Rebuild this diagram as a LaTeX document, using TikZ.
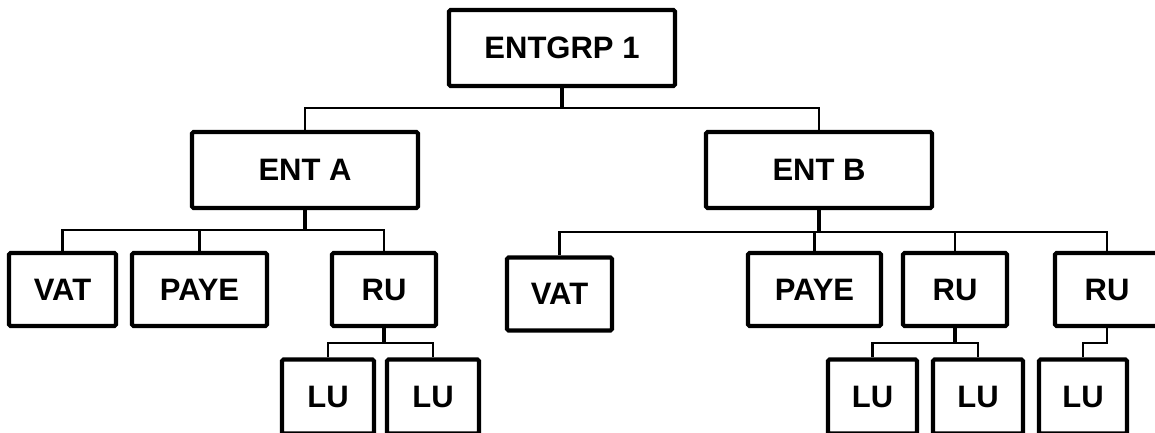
\documentclass[tikz,border=0pt]{standalone}
\usepackage{fontspec}
\setmainfont{Liberation Sans}
\begin{document}
\begin{tikzpicture}[x=1pt,y=-1pt,
  box/.style={draw=black,line width=4.2pt,rounded corners=1.5pt,fill=white,
    inner sep=0pt,text depth=0pt,
    font=\fontsize{31}{31}\selectfont\bfseries},
  big/.style={box,minimum width=226pt,minimum height=76pt},
  unit/.style={box,minimum height=73pt},
  leaf/.style={box,minimum height=74pt},
  stem/.style={draw=black,line width=3.6pt},
  link/.style={draw=black,line width=2.6pt}]
\useasboundingbox (0,0) rectangle (1155,432);
\clip (0,0) rectangle (1155,432);
\fill[white] (0,0) rectangle (1155,432);

% junction points of the tree connectors
\coordinate (busG) at (562,108);
\coordinate (busA) at (305,230);
\coordinate (busB) at (819,232);
\coordinate (busRA) at (384,343);
\coordinate (busRB) at (955,343);
\coordinate (busRC) at (1083,343);

% top level
\node[big] (g) at (562,48) {ENTGRP 1};
\node[big] (a) at (305,170) {ENT A};
\node[big] (b) at (819,170) {ENT B};

% units of ENT A
\node[unit,minimum width=107pt] (vatA)  at (62.5,289.5) {VAT};
\node[unit,minimum width=135pt] (payeA) at (199.5,289.5) {PAYE};
\node[unit,minimum width=104pt] (ruA)   at (384,289.5) {RU};
\node[leaf,minimum width=92pt]  (luA1)  at (328,396.5) {LU};
\node[leaf,minimum width=92pt]  (luA2)  at (433,396.5) {LU};

% units of ENT B
\node[unit,minimum width=105pt] (vatB)  at (559.5,294) {VAT};
\node[unit,minimum width=133pt] (payeB) at (814.5,289.5) {PAYE};
\node[unit,minimum width=104pt] (ruB1)  at (955,289.5) {RU};
\node[unit,minimum width=104pt] (ruB2)  at (1107,289.5) {RU};
\node[leaf,minimum width=89pt]  (luB1)  at (872.5,396.5) {LU};
\node[leaf,minimum width=90pt]  (luB2)  at (978,396.5) {LU};
\node[leaf,minimum width=88pt]  (luB3)  at (1083,396.5) {LU};

% tree connectors
\draw[stem] (g.south) -- (busG);
\draw[link] (a.north) |- (busG) -| (b.north);

\draw[stem] (a.south) -- (busA);
\draw[link] (vatA.north) |- (busA) -| (ruA.north);
\draw[link] (payeA.north) -- (payeA.north |- busA);

\draw[stem] (b.south) -- (busB);
\draw[link] (vatB.north) |- (busB) -| (ruB2.north);
\draw[link] (payeB.north) -- (payeB.north |- busB);
\draw[link] (ruB1.north) -- (ruB1.north |- busB);

\draw[stem] (ruA.south) -- (busRA);
\draw[link] (luA1.north) |- (busRA) -| (luA2.north);

\draw[stem] (ruB1.south) -- (busRB);
\draw[link] (luB1.north) |- (busRB) -| (luB2.north);

\draw[link] (ruB2.south) |- (busRC) -- (luB3.north);
\end{tikzpicture}
\end{document}
